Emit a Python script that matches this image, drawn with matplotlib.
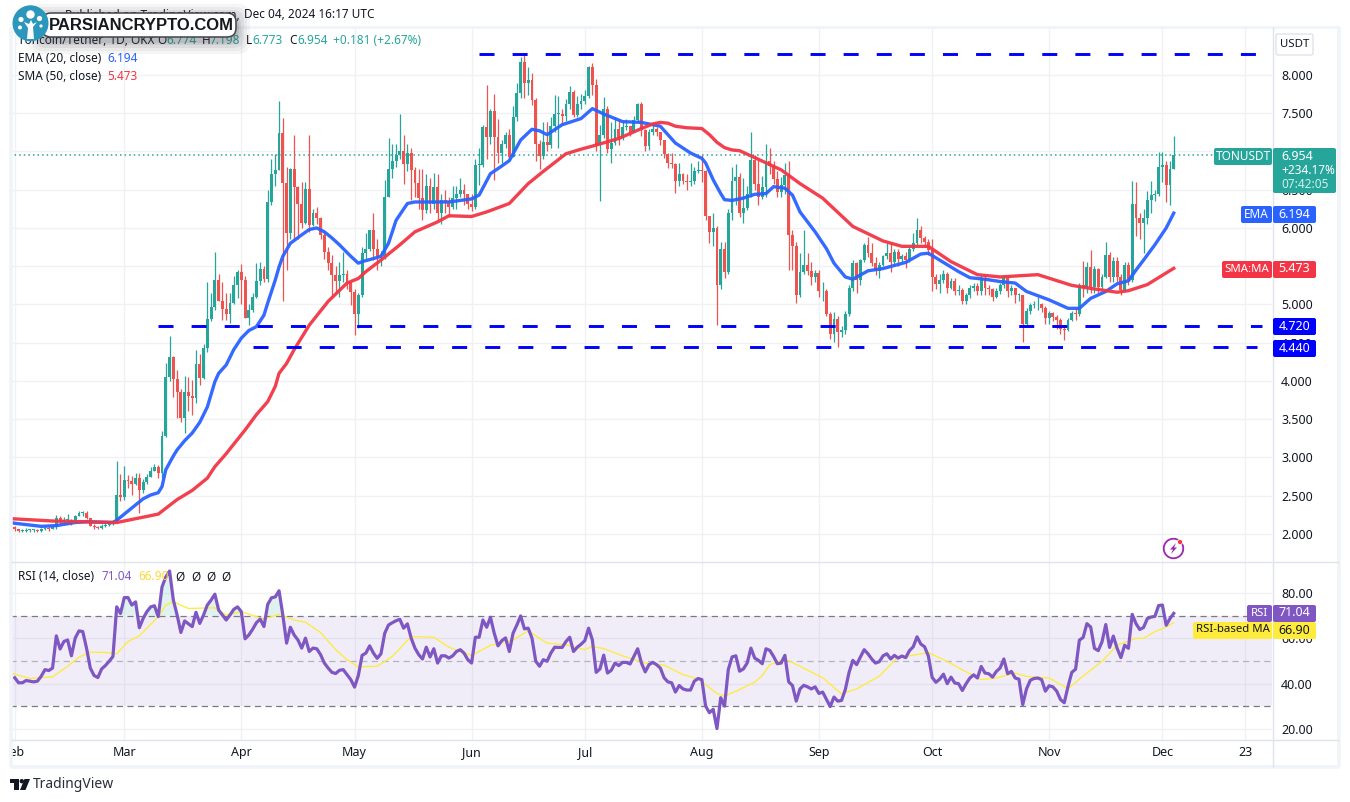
import numpy as np
import matplotlib
matplotlib.use('Agg')
import matplotlib.pyplot as plt
from matplotlib.patches import Circle, FancyBboxPatch, Polygon, Rectangle, Arc

plt.rcParams['font.family'] = ['Noto Sans', 'DejaVu Sans']

# Daily candles. Day 0 is Feb 1, one row per month
closes = [
    2.07, 2.04, 2.04, 2.05, 2.05, 2.05, 2.04, 2.06, 2.08, 2.07, 2.09, 2.21, 2.16, 2.18, 2.18, 2.14, 2.24, 2.28, 2.28, 2.21, 2.11, 2.09, 2.08, 2.11, 2.12, 2.13, 2.16, 2.51, 2.48,
    2.70, 2.69, 2.65, 2.73, 2.58, 2.68, 2.75, 2.83, 2.88, 2.80, 3.28, 4.05, 4.31, 4.02, 3.86, 3.52, 3.85, 3.81, 3.78, 4.22, 4.04, 4.43, 4.81, 4.97, 5.32, 5.04, 4.94, 4.88, 5.02, 5.25, 5.42,
    5.32, 4.82, 4.93, 5.10, 5.31, 5.47, 5.33, 6.34, 6.71, 6.76, 7.24, 6.59, 5.94, 6.77, 6.54, 6.31, 6.07, 6.51, 6.04, 6.19, 6.13, 5.91, 5.69, 5.54, 5.38, 5.31, 5.38, 5.40, 5.29, 5.16,
    4.87, 5.12, 5.67, 5.73, 5.97, 5.73, 5.63, 5.63, 6.41, 6.77, 6.88, 6.95, 7.01, 6.83, 6.98, 6.76, 6.59, 6.39, 6.24, 6.55, 6.32, 6.54, 6.19, 6.36, 6.34, 6.28, 6.39, 6.45, 6.50, 6.44, 6.32,
    6.28, 6.82, 6.82, 7.32, 7.19, 7.53, 7.19, 6.98, 7.10, 7.22, 6.93, 7.45, 7.76, 8.17, 7.89, 7.93, 7.67, 7.10, 6.94, 7.13, 7.09, 7.33, 7.49, 7.49, 7.46, 7.62, 7.78, 7.48, 7.62, 7.66,
    7.72, 8.11, 7.87, 7.08, 7.22, 7.56, 7.03, 7.11, 7.29, 7.17, 7.32, 7.33, 7.25, 7.41, 7.62, 7.28, 7.07, 7.25, 7.30, 7.25, 7.15, 6.97, 6.85, 6.84, 6.61, 6.71, 6.62, 6.60, 6.61, 6.74, 6.76,
    6.75, 6.16, 5.95, 6.00, 5.25, 5.73, 5.43, 6.20, 6.61, 6.66, 6.20, 6.26, 6.44, 6.89, 6.58, 6.41, 6.54, 6.88, 6.81, 6.64, 6.47, 6.56, 6.69, 5.91, 5.76, 5.12, 5.43, 5.52, 5.44, 5.36, 5.41,
    5.17, 5.17, 4.88, 4.62, 4.81, 4.64, 4.66, 4.88, 5.21, 5.54, 5.32, 5.58, 5.78, 5.67, 5.54, 5.44, 5.52, 5.63, 5.67, 5.56, 5.68, 5.60, 5.63, 5.58, 5.72, 5.80, 5.97, 5.87, 5.82, 5.71,
    5.36, 5.27, 5.32, 5.40, 5.21, 5.31, 5.18, 5.19, 5.04, 5.12, 5.21, 5.24, 5.18, 5.35, 5.21, 5.20, 5.10, 5.17, 5.25, 5.35, 5.18, 5.21, 5.12, 5.12, 4.75, 4.91, 4.99, 5.00, 5.00, 4.96, 4.82,
    4.89, 4.84, 4.80, 4.68, 4.66, 4.80, 4.89, 4.88, 5.25, 5.22, 5.49, 5.23, 5.46, 5.23, 5.36, 5.65, 5.36, 5.57, 5.36, 5.19, 5.51, 5.32, 6.31, 6.13, 6.06, 6.13, 6.37, 6.43, 6.44, 6.80,
    6.82, 6.56, 6.774, 6.954,
]
highs = [
    2.10, 2.07, 2.06, 2.08, 2.06, 2.07, 2.06, 2.08, 2.11, 2.10, 2.12, 2.25, 2.24, 2.22, 2.26, 2.20, 2.25, 2.30, 2.30, 2.30, 2.21, 2.13, 2.11, 2.13, 2.14, 2.15, 2.18, 2.95, 2.79,
    2.89, 2.77, 2.76, 2.80, 2.80, 2.72, 2.78, 2.88, 2.92, 2.90, 3.35, 4.24, 4.59, 4.33, 4.14, 3.90, 4.07, 4.05, 4.01, 4.40, 4.35, 4.48, 5.30, 5.15, 5.69, 5.40, 5.30, 5.15, 5.15, 5.37, 5.45,
    5.53, 5.37, 5.00, 5.15, 5.54, 5.55, 5.50, 6.50, 6.90, 6.97, 7.66, 7.44, 6.80, 6.78, 7.22, 6.55, 6.60, 6.60, 7.22, 6.25, 6.28, 6.15, 5.95, 5.75, 5.65, 5.50, 5.55, 5.68, 5.45, 5.30,
    5.20, 5.15, 5.75, 5.93, 5.97, 6.19, 5.85, 5.70, 6.63, 7.17, 7.10, 7.10, 7.49, 7.22, 7.10, 7.05, 6.80, 6.77, 6.77, 6.70, 6.65, 6.72, 6.70, 6.45, 6.50, 6.40, 6.55, 6.55, 6.65, 6.58, 6.45,
    6.45, 6.90, 7.04, 7.35, 7.87, 7.55, 7.75, 7.43, 7.15, 7.25, 7.30, 7.59, 7.90, 8.24, 8.28, 8.10, 8.02, 7.70, 7.15, 7.38, 7.38, 7.45, 7.74, 7.72, 7.55, 7.68, 7.85, 7.80, 7.72, 7.75,
    7.80, 8.12, 8.16, 7.95, 7.35, 7.71, 7.60, 7.38, 7.45, 7.42, 7.40, 7.42, 7.32, 7.46, 7.64, 7.65, 7.30, 7.30, 7.36, 7.32, 7.25, 7.15, 6.98, 6.98, 6.85, 6.85, 6.72, 6.70, 6.85, 6.80, 6.88,
    6.95, 6.76, 6.16, 6.20, 6.02, 5.82, 5.82, 6.25, 6.80, 6.84, 6.72, 6.65, 6.55, 7.25, 6.95, 6.89, 6.68, 7.10, 7.05, 6.87, 6.75, 6.66, 6.85, 6.87, 5.97, 5.82, 5.67, 5.97, 5.67, 5.55, 5.45,
    5.45, 5.30, 5.20, 4.90, 4.90, 4.85, 4.72, 4.92, 5.25, 5.58, 5.55, 5.60, 5.80, 5.88, 5.80, 5.62, 5.55, 5.65, 5.80, 5.80, 5.72, 5.72, 5.66, 5.68, 5.75, 5.93, 6.13, 6.02, 5.90, 5.85,
    5.85, 5.40, 5.40, 5.45, 5.42, 5.35, 5.35, 5.25, 5.22, 5.15, 5.25, 5.28, 5.28, 5.38, 5.38, 5.25, 5.22, 5.22, 5.28, 5.38, 5.38, 5.25, 5.22, 5.15, 5.13, 4.95, 5.02, 5.05, 5.10, 5.02, 4.98,
    4.92, 4.90, 4.86, 4.82, 4.70, 4.82, 4.92, 4.95, 5.28, 5.57, 5.55, 5.71, 5.50, 5.48, 5.40, 5.82, 5.68, 5.62, 5.62, 5.40, 5.55, 5.55, 6.61, 6.60, 6.20, 6.25, 6.48, 6.61, 6.50, 6.99,
    6.99, 6.88, 6.88, 7.198,
]
lows = [
    2.04, 2.02, 2.02, 2.02, 2.03, 2.03, 2.03, 2.03, 2.05, 2.04, 2.06, 2.06, 2.12, 2.13, 2.14, 2.12, 2.14, 2.23, 2.24, 2.20, 2.10, 2.07, 2.06, 2.06, 2.09, 2.10, 2.12, 2.14, 2.43,
    2.44, 2.60, 2.51, 2.64, 2.28, 2.53, 2.65, 2.74, 2.82, 2.73, 2.73, 3.27, 4.00, 3.79, 3.51, 3.47, 3.32, 3.61, 3.55, 3.71, 3.95, 4.03, 4.38, 4.78, 4.93, 5.04, 4.80, 4.80, 4.76, 5.00, 5.09,
    5.00, 4.82, 4.73, 4.90, 5.09, 5.25, 5.30, 5.30, 6.30, 6.55, 6.76, 5.05, 5.45, 5.85, 5.84, 5.85, 6.00, 6.05, 5.95, 6.02, 6.05, 5.85, 5.60, 5.45, 5.12, 5.15, 5.10, 5.30, 5.20, 4.99,
    4.60, 4.69, 5.10, 5.60, 5.70, 5.58, 5.45, 5.50, 5.60, 6.40, 6.65, 6.80, 6.90, 6.58, 6.75, 6.37, 6.40, 6.25, 6.10, 6.20, 6.20, 6.25, 6.10, 6.05, 6.20, 6.15, 6.25, 6.25, 6.40, 6.30, 6.25,
    6.22, 6.25, 6.56, 6.80, 6.90, 7.10, 6.63, 6.85, 6.85, 7.05, 6.90, 6.93, 7.40, 7.70, 7.70, 7.74, 7.61, 6.88, 6.77, 6.90, 7.00, 7.05, 7.25, 7.04, 7.35, 7.40, 7.55, 7.45, 7.45, 7.55,
    7.62, 7.70, 7.74, 7.00, 6.35, 7.18, 6.98, 6.85, 7.08, 7.08, 7.15, 7.28, 7.20, 7.25, 7.38, 7.20, 7.00, 7.02, 7.22, 7.20, 7.08, 6.92, 6.78, 6.78, 6.46, 6.55, 6.58, 6.50, 6.55, 6.58, 6.72,
    6.60, 6.10, 5.80, 5.76, 4.73, 5.20, 5.35, 5.40, 6.10, 6.30, 6.15, 6.06, 6.24, 6.40, 6.50, 6.30, 6.38, 6.40, 6.70, 6.58, 6.40, 6.40, 6.45, 5.45, 5.45, 5.02, 5.10, 5.40, 5.38, 5.25, 5.30,
    5.10, 5.05, 4.85, 4.55, 4.51, 4.45, 4.58, 4.62, 4.85, 5.17, 5.15, 5.25, 5.55, 5.62, 5.50, 5.38, 5.35, 5.50, 5.60, 5.42, 5.50, 5.50, 5.55, 5.48, 5.55, 5.70, 5.78, 5.80, 5.75, 5.65,
    5.17, 5.20, 5.15, 5.28, 5.15, 5.20, 5.12, 5.12, 5.00, 5.00, 5.08, 5.18, 5.12, 5.12, 5.12, 5.12, 5.05, 5.08, 5.14, 5.22, 5.10, 5.12, 5.02, 5.05, 4.51, 4.72, 4.88, 4.95, 4.93, 4.90, 4.75,
    4.75, 4.78, 4.68, 4.62, 4.54, 4.65, 4.78, 4.80, 4.85, 5.10, 5.15, 5.15, 5.15, 5.15, 5.20, 5.35, 5.30, 5.30, 5.30, 5.12, 5.18, 5.25, 5.30, 5.90, 5.85, 5.67, 6.05, 6.20, 6.35, 6.42,
    6.60, 6.34, 6.30, 6.773,
]
# open of a daily candle is the previous close on this market
first_open = 2.09

ema_days = [-1, 0, 7, 11, 16, 19, 26, 27, 30, 32, 34, 36, 38, 39, 40, 42, 43, 45, 47, 49, 51, 53, 54, 56, 58, 60, 62, 64, 66, 67, 69, 70, 71, 73, 76, 78, 80, 82, 84, 86, 89, 91, 92, 95, 97, 99, 101, 104, 106, 115, 121, 123, 126, 129, 131, 134, 137, 139, 141, 145, 150, 153, 156, 161, 166, 171, 175, 179, 182, 183, 185, 187, 188, 190, 193, 196, 199, 201, 204, 206, 208, 212, 215, 217, 220, 222, 226, 230, 236, 240, 242, 245, 250, 253, 257, 261, 265, 268, 274, 279, 282, 285, 289, 292, 295, 297, 299, 302, 305, 307]
ema_vals = [2.15, 2.14, 2.10, 2.11, 2.15, 2.16, 2.15, 2.18, 2.30, 2.38, 2.46, 2.51, 2.54, 2.62, 2.84, 3.02, 3.10, 3.22, 3.32, 3.46, 3.66, 3.99, 4.10, 4.21, 4.41, 4.56, 4.66, 4.71, 4.86, 5.02, 5.32, 5.49, 5.63, 5.80, 5.91, 5.98, 6.00, 5.95, 5.87, 5.78, 5.63, 5.54, 5.56, 5.60, 5.63, 5.80, 6.10, 6.32, 6.34, 6.34, 6.38, 6.43, 6.71, 6.81, 6.88, 7.15, 7.29, 7.27, 7.22, 7.35, 7.43, 7.56, 7.49, 7.39, 7.38, 7.33, 7.11, 6.98, 6.91, 6.85, 6.63, 6.45, 6.37, 6.36, 6.39, 6.44, 6.45, 6.54, 6.52, 6.43, 6.21, 5.95, 5.73, 5.54, 5.36, 5.33, 5.44, 5.47, 5.55, 5.66, 5.67, 5.58, 5.43, 5.35, 5.33, 5.30, 5.28, 5.17, 5.06, 4.95, 4.95, 5.08, 5.17, 5.27, 5.31, 5.45, 5.58, 5.78, 6.00, 6.194]

sma_days = [-1, 10, 27, 32, 38, 43, 47, 51, 53, 56, 61, 64, 67, 69, 70, 72, 74, 78, 83, 88, 91, 93, 97, 102, 106, 112, 115, 121, 125, 131, 136, 140, 146, 150, 153, 160, 166, 169, 171, 173, 175, 178, 182, 184, 186, 188, 190, 192, 196, 203, 208, 214, 222, 230, 235, 242, 248, 255, 261, 271, 280, 285, 292, 295, 300, 307]
sma_vals = [2.20, 2.17, 2.15, 2.20, 2.26, 2.45, 2.57, 2.73, 2.88, 3.05, 3.36, 3.56, 3.73, 3.93, 4.10, 4.23, 4.41, 4.73, 5.04, 5.28, 5.34, 5.43, 5.58, 5.78, 5.95, 6.08, 6.16, 6.15, 6.21, 6.32, 6.58, 6.74, 6.97, 7.03, 7.07, 7.17, 7.30, 7.36, 7.38, 7.37, 7.33, 7.31, 7.30, 7.22, 7.12, 7.05, 7.02, 7.01, 6.92, 6.76, 6.58, 6.39, 6.02, 5.83, 5.76, 5.76, 5.56, 5.39, 5.36, 5.39, 5.25, 5.21, 5.16, 5.18, 5.26, 5.473]

rsi = [
    42.6, 40.4, 40.4, 41.4, 41.1, 40.8, 41.1, 43.3, 46.2, 45.8, 46.9, 61.1, 55.3, 58.6, 59.3, 52.3, 60.1, 63.3, 63.0, 55.7, 46.9, 43.6, 42.7, 46.5, 48.0, 49.9, 52.0, 73.9, 71.0,
    78.0, 78.0, 74.7, 76.1, 64.7, 68.8, 71.8, 73.9, 74.4, 69.6, 82.7, 87.1, 89.7, 76.9, 70.3, 62.6, 67.7, 66.4, 65.2, 71.5, 66.6, 70.3, 74.7, 76.9, 79.5, 72.5, 70.3, 68.1, 70.3, 72.8, 73.9,
    71.8, 59.8, 61.5, 64.0, 66.9, 68.5, 65.2, 75.0, 77.9, 78.3, 81.0, 70.3, 57.9, 64.9, 61.5, 59.3, 55.7, 60.1, 54.2, 55.7, 55.4, 52.8, 49.1, 46.9, 45.0, 44.5, 45.9, 46.2, 44.0, 41.8,
    38.5, 43.6, 52.5, 53.5, 56.7, 53.5, 51.2, 53.2, 62.3, 65.9, 66.9, 67.8, 68.4, 64.5, 66.4, 60.1, 55.7, 52.8, 50.9, 56.1, 51.8, 55.4, 49.1, 52.3, 52.3, 51.3, 52.3, 54.2, 55.0, 53.5, 50.6,
    49.1, 60.5, 60.5, 68.1, 64.9, 69.3, 62.3, 56.7, 59.0, 60.2, 54.2, 62.3, 65.9, 69.9, 64.2, 64.5, 60.1, 49.9, 47.7, 50.6, 49.9, 53.5, 56.1, 56.0, 56.0, 58.6, 60.5, 54.2, 56.1, 57.4,
    59.0, 64.5, 59.3, 45.0, 46.5, 52.6, 44.7, 45.9, 49.1, 48.0, 49.4, 49.4, 48.7, 52.0, 55.4, 49.1, 45.2, 48.4, 49.4, 48.4, 46.9, 42.6, 40.8, 40.4, 36.3, 39.2, 37.7, 37.2, 37.2, 41.1, 42.3,
    41.8, 30.1, 27.2, 28.7, 20.2, 33.8, 30.1, 46.2, 51.8, 52.3, 45.5, 46.5, 49.1, 55.7, 51.3, 50.3, 48.8, 55.4, 54.7, 52.0, 48.8, 49.1, 52.5, 40.8, 39.2, 32.3, 37.7, 39.3, 38.6, 37.7, 38.6,
    35.7, 36.3, 33.1, 29.9, 34.1, 32.3, 32.6, 37.4, 45.0, 50.3, 48.4, 51.8, 55.0, 53.2, 50.9, 49.1, 49.7, 52.3, 53.2, 50.9, 52.5, 51.3, 52.2, 51.5, 54.6, 56.3, 60.7, 57.5, 56.3, 52.2,
    42.8, 40.6, 42.0, 44.2, 40.0, 42.9, 40.3, 40.0, 37.0, 40.0, 42.5, 43.9, 42.5, 47.6, 44.7, 44.4, 42.9, 45.4, 46.9, 50.9, 44.4, 45.4, 42.5, 42.0, 30.8, 37.7, 41.5, 42.3, 42.5, 41.8, 36.7,
    39.1, 38.6, 36.7, 33.0, 31.6, 38.8, 45.0, 46.4, 59.2, 60.4, 66.5, 65.0, 55.6, 54.6, 58.5, 66.1, 56.0, 61.0, 55.6, 51.5, 57.0, 55.6, 70.6, 66.5, 63.9, 64.8, 68.7, 69.4, 69.7, 74.5,
    74.7, 65.8, 68.7, 71.04,
]
rsi_ma_days = [-1, 4, 10, 14, 17, 20, 24, 27, 30, 33, 38, 40, 42, 46, 53, 56, 60, 66, 70, 74, 77, 81, 85, 88, 91, 96, 100, 105, 111, 115, 121, 126, 132, 136, 141, 146, 151, 153, 156, 161, 167, 172, 177, 181, 186, 188, 192, 196, 198, 200, 204, 208, 214, 219, 223, 229, 234, 236, 242, 247, 251, 256, 260, 265, 268, 274, 279, 284, 288, 292, 297, 299, 302, 305, 307]
rsi_ma_vals = [44.7, 42.3, 43.0, 47.7, 51.7, 53.9, 53.8, 53.2, 58.6, 61.1, 69.6, 74.7, 76.1, 73.2, 73.5, 70.3, 71.8, 68.5, 70.6, 68.1, 67.1, 62.6, 55.0, 50.6, 47.4, 47.7, 52.0, 60.8, 60.5, 56.1, 52.5, 56.9, 59.3, 63.3, 57.9, 57.2, 55.0, 56.4, 55.5, 52.3, 49.1, 48.2, 44.0, 42.1, 35.7, 34.5, 37.4, 40.7, 43.6, 48.4, 50.9, 47.7, 42.6, 35.5, 37.7, 43.3, 51.8, 52.0, 53.7, 49.8, 46.1, 41.8, 42.5, 44.7, 43.2, 42.5, 37.8, 44.7, 49.8, 57.0, 60.0, 60.0, 62.9, 65.0, 66.9]

level_prices = [8.27, 4.72, 4.44]
level_starts = [123, 38, 63]
level_ends = [332.5, 330.4, 329]
last_price = 6.954

month_days = [0, 29, 60, 90, 121, 151, 182, 213, 243, 274, 304, 326]
month_labels = ['Feb', 'Mar', 'Apr', 'May', 'Jun', 'Jul', 'Aug', 'Sep', 'Oct', 'Nov', 'Dec', '23']
price_ticks = [2.0, 2.5, 3.0, 3.5, 4.0, 4.5, 5.0, 5.5, 6.0, 6.5, 7.0, 7.5, 8.0]
# 5.500 and 7.000 are hidden by the price tags in the original
price_tick_labels = ['2.000', '2.500', '3.000', '3.500', '4.000', '4.500', '5.000', '', '6.000', '6.500', '', '7.500', '8.000']
rsi_ticks = [20, 40, 60, 80]

assert len(closes) == len(highs) == len(lows) == len(rsi) == 308
assert len(ema_days) == len(ema_vals) and len(sma_days) == len(sma_vals)
assert len(rsi_ma_days) == len(rsi_ma_vals)

UP = '#26a69a'
DOWN = '#ef5350'
EMA_COL = '#2962ff'
SMA_COL = '#f23645'
RSI_COL = '#7e57c2'
RSI_MA_COL = '#ffeb3b'
TEXT = '#131722'
GRID = '#f0f1f4'
BORDER = '#e0e3eb'
W, H = 1350, 802

fig = plt.figure(figsize=(W / 100, H / 100), dpi=100, facecolor='white')
ax = fig.add_axes([10 / W, (H - 562) / H, 1262 / W, 534 / H])
ax2 = fig.add_axes([10 / W, (H - 740) / H, 1262 / W, 178 / H], sharex=ax)

days = np.arange(len(closes))
c = np.array(closes)
o = np.r_[first_open, c[:-1]]
colors = np.where(c >= o, UP, DOWN)

ax.vlines(days, lows, highs, colors=colors, lw=0.9, zorder=3)
ax.bar(days, np.maximum(np.abs(c - o), 0.012), bottom=np.minimum(o, c), width=0.76, color=colors, zorder=3)
ax.plot(ema_days, ema_vals, color=EMA_COL, lw=2.4, zorder=4, solid_joinstyle='round', alpha=0.95)
ax.plot(sma_days, sma_vals, color=SMA_COL, lw=2.4, zorder=4, solid_joinstyle='round', alpha=0.95)
ax.axhline(last_price, color=UP, lw=1.1, ls=(0, (1, 2)), zorder=2)
for price, start, end in zip(level_prices, level_starts, level_ends):
    ax.plot([start, end], [price, price], color='#0000ff', lw=2.1, ls=(0, (5.15, 6.2)),
            dash_capstyle='butt', zorder=5)

ax.set_ylim(1.634, 8.614)
ax.set_xlim(-1.27, 333.03)
ax.set_yticks(price_ticks)
ax.set_yticklabels(price_tick_labels)

ax2.axhspan(30, 70, color='#7e57c2', alpha=0.1, lw=0, zorder=1)
for lev, col in zip([70, 50, 30], ['#787b86', '#b2b5be', '#787b86']):
    ax2.axhline(lev, color=col, lw=0.9, ls=(0, (5, 3.5)), zorder=2)
rsi_arr = np.array(rsi)
ax2.fill_between(days, 70, rsi_arr, where=rsi_arr > 70, interpolate=True, color=UP, alpha=0.14, lw=0, zorder=2)
ax2.plot(rsi_ma_days, rsi_ma_vals, color=RSI_MA_COL, lw=0.95, zorder=3)
ax2.plot(days, rsi, color=RSI_COL, lw=2.3, zorder=4, solid_joinstyle='round')
ax2.set_ylim(15.15, 93.7)
ax2.set_yticks(rsi_ticks)
ax2.set_yticklabels([f'{t:.2f}' for t in rsi_ticks])
ax2.set_xticks(month_days)
ax2.set_xticklabels(month_labels)

for a in (ax, ax2):
    a.yaxis.tick_right()
    a.grid(True, color=GRID, lw=1, zorder=0)
    a.set_axisbelow(True)
    a.tick_params(length=0, labelsize=9, labelcolor=TEXT, pad=6.5)
    for s in a.spines.values():
        s.set_visible(False)
ax.tick_params(axis='x', labelbottom=False)
ax2.tick_params(axis='x', pad=4.5)

# overlay in screen pixels for the frame, price tags, legend and logo
ov = fig.add_axes([0, 0, 1, 1], zorder=10)
ov.set_xlim(0, W)
ov.set_ylim(H, 0)
ov.axis('off')
ov.patch.set_alpha(0)

ov.add_patch(Rectangle((0, 0), 10, 770, color='white', zorder=1))


def frame_line(x0, y0, x1, y1, lw=1.0, col=BORDER):
    ov.plot([x0, x1], [y0, y1], color=col, lw=lw, zorder=2, solid_capstyle='butt')


frame_line(11, 27, 1339, 27, 2.0, '#f0f3fa')
frame_line(11, 27, 11, 767, 2.6, '#f0f3fa')
frame_line(11, 767, 1339, 767, 2.6, '#f0f3fa')
frame_line(1339, 27, 1339, 767, 2.6, '#f0f3fa')
frame_line(1272.5, 27, 1272.5, 767)
frame_line(11, 562, 1339, 562)
frame_line(11, 740, 1339, 740)


def tag(x0, x1, y0, y1, col, txt, txt_col='white', size=8.5):
    ov.add_patch(FancyBboxPatch((x0 + 1, y0 + 1), x1 - x0 - 2, y1 - y0 - 2,
                                boxstyle='round,pad=1,rounding_size=2', fc=col, ec='none', zorder=3))
    if txt:
        ov.text((x0 + x1) / 2, (y0 + y1) / 2 - 0.5, txt, color=txt_col, fontsize=size,
                va='center', ha='center', zorder=4)


# right hand price tags
tag(1214, 1272, 148, 165, UP, 'TONUSDT')
tag(1273, 1336, 148, 193, UP, '')
ov.text(1281, 156, '6.954', color='white', fontsize=9, va='center', zorder=5)
ov.text(1281, 171, '+234.17%', color='white', fontsize=8.5, va='center', zorder=5)
ov.text(1281, 185, '07:42:05', color='#d4eeeb', fontsize=8.5, va='center', zorder=5)
tag(1241, 1272, 206, 223, EMA_COL, 'EMA')
tag(1273, 1316, 206, 223, EMA_COL, '6.194', size=9)
tag(1222, 1272, 261, 278, SMA_COL, 'SMA:MA', size=8.2)
tag(1273, 1316, 261, 278, SMA_COL, '5.473', size=9)
tag(1273, 1316, 318, 335, '#0000ff', '4.720', size=9)
tag(1273, 1316, 340, 357, '#0000ff', '4.440', size=9)
tag(1247, 1272, 605, 622, RSI_COL, 'RSI', size=8.2)
tag(1273, 1316, 605, 622, RSI_COL, '71.04', size=9)
tag(1193, 1272, 622, 639, RSI_MA_COL, 'RSI-based MA', TEXT, size=8.2)
tag(1273, 1316, 622, 639, RSI_MA_COL, '66.90', TEXT, size=9)

ov.add_patch(FancyBboxPatch((1277, 35), 35, 19, boxstyle='round,pad=1,rounding_size=2',
                            fc='white', ec=BORDER, lw=1, zorder=3))
ov.text(1295, 44.5, 'USDT', color=TEXT, fontsize=8.2, ha='center', va='center', zorder=4)

# legend text
LEG = 8.5
ov.text(243, 15, 'Published on TradingView.com, ', color=TEXT, fontsize=LEG, ha='right', va='center')
ov.text(244, 15, 'Dec 04, 2024 16:17 UTC', color=TEXT, fontsize=LEG, va='center')
ov.text(18, 41, 'Toncoin/Tether, 1D, OKX', color=TEXT, fontsize=LEG, va='center')
for x, s, col in [(157, 'O', TEXT), (166, '6.774', UP), (202, 'H', TEXT), (210, '7.198', UP),
                  (246, 'L', TEXT), (252, '6.773', UP), (289, 'C', TEXT), (297, '6.954', UP),
                  (333, '+0.181 (+2.67%)', UP)]:
    ov.text(x, 41, s, color=col, fontsize=LEG, va='center')
ov.text(18, 59, 'EMA (20, close)', color=TEXT, fontsize=LEG, va='center')
ov.text(107, 59, '6.194', color=EMA_COL, fontsize=LEG, va='center')
ov.text(18, 76, 'SMA (50, close)', color=TEXT, fontsize=LEG, va='center')
ov.text(107, 76, '5.473', color=SMA_COL, fontsize=LEG, va='center')
ov.text(18, 577, 'RSI (14, close)', color=TEXT, fontsize=LEG, va='center')
ov.text(102, 577, '71.04', color=RSI_COL, fontsize=LEG, va='center')
ov.text(138, 577, '66.90', color='#fdd835', fontsize=LEG, va='center')
for x in [175, 191, 206, 221]:
    ov.text(x, 577, '\u00d8', color=TEXT, fontsize=LEG, va='center')

# lightning badge
ov.add_patch(Arc((1173.5, 548.5), 19.5, 19.5, theta1=0, theta2=360, color='#9c27b0', lw=1.3, zorder=4))
ov.add_patch(Polygon([(1176, 543), (1170, 549.5), (1173, 549.5), (1171, 554), (1177, 547.5), (1174, 547.5)],
                     fc='#9c27b0', ec='none', zorder=4))
ov.add_patch(Circle((1180, 542), 2.6, fc='#f23645', ec='white', lw=0.6, zorder=5))

# TradingView mark
ov.add_patch(Polygon([(10, 779), (19, 779), (19, 790), (14, 790), (14, 783), (10, 783)], fc=TEXT, ec='none'))
ov.add_patch(Circle((21.8, 781.2), 2.2, fc=TEXT, ec='none'))
ov.add_patch(Polygon([(24.5, 779), (30, 779), (25.5, 790), (20, 790)], fc=TEXT, ec='none'))
ov.text(33, 785, 'TradingView', color='#2a2e39', fontsize=10, va='center')

# site logo, sits on top of the header
for pad, alpha in zip([14, 11, 8, 5, 3], [0.05, 0.06, 0.08, 0.1, 0.12]):
    ov.add_patch(FancyBboxPatch((42, 18), 194, 22, boxstyle=f'round,pad={pad},rounding_size=12',
                                fc='#40444c', ec='none', alpha=alpha, zorder=6))
ov.add_patch(FancyBboxPatch((46, 17), 186, 16, boxstyle='round,pad=4,rounding_size=9',
                            fc='white', ec='#40444c', lw=1.1, zorder=7))
ov.text(141, 25.5, 'PARSIANCRYPTO.COM', color='#15181d', fontsize=12, fontweight='bold',
        family=['Liberation Sans', 'DejaVu Sans'], ha='center', va='center', zorder=8)
ov.add_patch(Circle((30.5, 23.3), 18, fc='#2b97bd', ec='none', zorder=8))
ov.add_patch(Polygon([(27, 39), (34, 39), (33, 27), (37, 22), (33, 24), (31, 20), (29, 24), (24, 22), (28, 28)],
                     fc='white', ec='none', zorder=9))
for cx, cy, r in [(30.5, 14.5, 4.2), (21, 19.5, 2.6), (39.5, 18.5, 2.6), (20, 27.5, 2.0), (41, 26, 1.6)]:
    ov.add_patch(Circle((cx, cy), r, fc='white', ec='none', zorder=9))

fig.savefig('out.png', dpi=100)
